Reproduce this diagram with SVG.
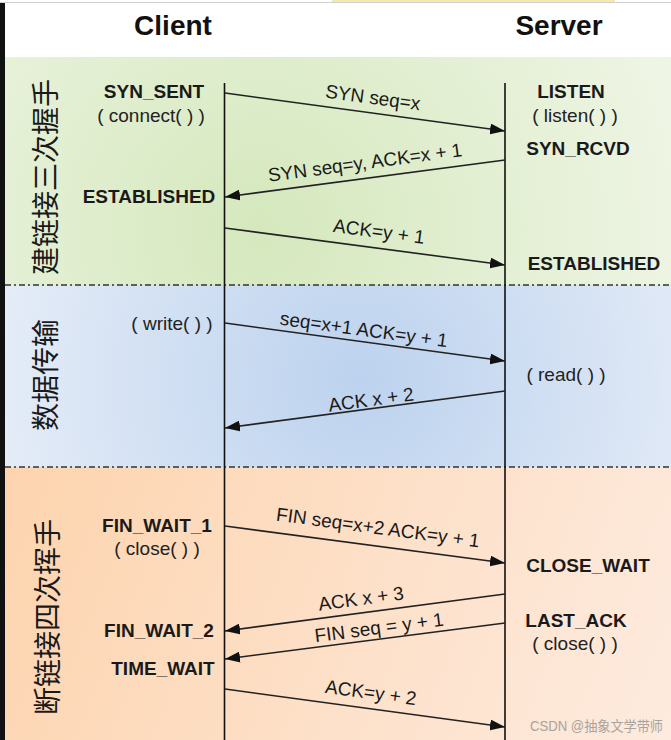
<svg xmlns="http://www.w3.org/2000/svg" width="671" height="740" viewBox="0 0 671 740">
  <style>
    .hdr { font-family: "Liberation Sans", Arial, sans-serif; font-size: 28px; font-weight: bold; fill: #111; text-anchor: middle; }
    .st { font-family: "Liberation Sans", Arial, sans-serif; font-size: 19px; font-weight: bold; fill: #1a1a1a; text-anchor: middle; }
    .fn { font-family: "Liberation Sans", Arial, sans-serif; font-size: 19px; fill: #222; text-anchor: middle; }
    .lbl { font-family: "Liberation Sans", Arial, sans-serif; font-size: 19px; fill: #1a1a1a; text-anchor: middle; }
    .cjk { font-family: "Noto Sans CJK SC", "Noto Sans CJK TC", sans-serif; font-size: 28px; fill: #1a1a1a; text-anchor: middle; }
    .life { stroke: #111; stroke-width: 1.6; fill: none; }
    .sep { stroke: #333; stroke-width: 1.6; stroke-dasharray: 6 3 2 3; fill: none; }
    .msg { stroke: #222; stroke-width: 1.6; fill: none; marker-end: url(#ah); }
    .wm { font-family: "Liberation Sans", "Noto Sans CJK SC", sans-serif; font-size: 14px; fill: #a9a39d; }
  </style>
  <defs>
    <marker id="ah" viewBox="0 0 15 11" refX="15" refY="5.5" markerWidth="15" markerHeight="11" markerUnits="userSpaceOnUse" orient="auto">
      <path d="M0,0 L15,5.5 L0,11 z" fill="#111"/>
    </marker>
    <radialGradient id="gGreen" cx="260" cy="230" r="460" gradientUnits="userSpaceOnUse">
      <stop offset="0" stop-color="#d5e8bd"/>
      <stop offset="1" stop-color="#f0f6e7"/>
    </radialGradient>
    <radialGradient id="gBlue" cx="360" cy="380" r="380" gradientUnits="userSpaceOnUse">
      <stop offset="0" stop-color="#bcd2ee"/>
      <stop offset="1" stop-color="#e6edf8"/>
    </radialGradient>
    <linearGradient id="gOrange" x1="0" y1="467" x2="671" y2="740" gradientUnits="userSpaceOnUse">
      <stop offset="0" stop-color="#fdd4ae"/>
      <stop offset="1" stop-color="#fdebdf"/>
    </linearGradient>
  </defs>

  <!-- frame / background -->
  <rect x="0" y="0" width="671" height="740" fill="#ffffff"/>
  <rect x="332" y="0" width="283" height="2" fill="#f5e9b0"/>
  <rect x="0" y="2" width="671" height="1" fill="#d0d0d0"/>
  <rect x="5" y="57" width="666" height="228" fill="url(#gGreen)"/>
  <rect x="5" y="285" width="666" height="182" fill="url(#gBlue)"/>
  <rect x="5" y="467" width="666" height="273" fill="url(#gOrange)"/>
  <rect x="0" y="3" width="5" height="737" fill="#111"/>
  <line class="sep" x1="5" y1="285" x2="671" y2="285"/>
  <line class="sep" x1="5" y1="467" x2="671" y2="467"/>

  <!-- headers -->
  <g id="client-header"><text class="hdr" x="173" y="35">Client</text></g>
  <g id="server-header"><text class="hdr" x="559" y="35">Server</text></g>

  <!-- phase labels -->
  <g id="phase-connect"><text class="cjk" transform="translate(46,177) rotate(-90)" y="10">建链接三次握手</text></g>
  <g id="phase-data"><text class="cjk" transform="translate(46,375) rotate(-90)" y="10">数据传输</text></g>
  <g id="phase-close"><text class="cjk" transform="translate(48,617) rotate(-90)" y="10">断链接四次挥手</text></g>

  <!-- lifelines -->
  <g id="lifelines">
    <line class="life" x1="224.5" y1="83" x2="224.5" y2="740"/>
    <line class="life" x1="505" y1="83" x2="505" y2="740"/>
  </g>

  <!-- client states -->
  <g id="c-syn-sent"><text class="st" x="154" y="98">SYN_SENT</text><text class="fn" x="151" y="122">( connect( ) )</text></g>
  <g id="c-established"><text class="st" x="149" y="203">ESTABLISHED</text></g>
  <g id="c-write"><text class="fn" x="172" y="330">( write( ) )</text></g>
  <g id="c-fin-wait-1"><text class="st" x="157" y="532">FIN_WAIT_1</text><text class="fn" x="157" y="555">( close( ) )</text></g>
  <g id="c-fin-wait-2"><text class="st" x="159" y="637">FIN_WAIT_2</text></g>
  <g id="c-time-wait"><text class="st" x="163" y="675">TIME_WAIT</text></g>

  <!-- server states -->
  <g id="s-listen"><text class="st" x="571" y="98">LISTEN</text><text class="fn" x="575" y="122">( listen( ) )</text></g>
  <g id="s-syn-rcvd"><text class="st" x="578" y="155">SYN_RCVD</text></g>
  <g id="s-established"><text class="st" x="594" y="270">ESTABLISHED</text></g>
  <g id="s-read"><text class="fn" x="566" y="381">( read( ) )</text></g>
  <g id="s-close-wait"><text class="st" x="588" y="572">CLOSE_WAIT</text></g>
  <g id="s-last-ack"><text class="st" x="576" y="627">LAST_ACK</text><text class="fn" x="575" y="650">( close( ) )</text></g>

  <!-- connectors -->
  <g id="connectors">
    <line class="msg" x1="225" y1="93" x2="505" y2="131"/>
    <text class="lbl" transform="translate(373,97) rotate(7.7)" y="7">SYN seq=x</text>

    <line class="msg" x1="505" y1="160" x2="225" y2="197"/>
    <text class="lbl" transform="translate(365,162) rotate(-7.6)" y="7">SYN seq=y, ACK=x + 1</text>

    <line class="msg" x1="225" y1="228" x2="505" y2="265"/>
    <text class="lbl" transform="translate(379,231) rotate(7.6)" y="7">ACK=y + 1</text>

    <line class="msg" x1="225" y1="323" x2="505" y2="361"/>
    <text class="lbl" transform="translate(364,329) rotate(7.7)" y="7">seq=x+1 ACK=y + 1</text>

    <line class="msg" x1="505" y1="391" x2="225" y2="428"/>
    <text class="lbl" transform="translate(371,399) rotate(-7.6)" y="7">ACK x + 2</text>

    <line class="msg" x1="225" y1="526" x2="505" y2="563"/>
    <text class="lbl" transform="translate(378,527) rotate(7.6)" y="7">FIN seq=x+2 ACK=y + 1</text>

    <line class="msg" x1="505" y1="594" x2="225" y2="631"/>
    <text class="lbl" transform="translate(361,598) rotate(-7.6)" y="7">ACK x + 3</text>

    <line class="msg" x1="505" y1="623" x2="225" y2="659"/>
    <text class="lbl" transform="translate(379,627) rotate(-7.4)" y="7">FIN seq = y + 1</text>

    <line class="msg" x1="225" y1="689" x2="505" y2="727"/>
    <text class="lbl" transform="translate(371,692) rotate(7.7)" y="7">ACK=y + 2</text>
  </g>

  <!-- watermark -->
  <text class="wm" x="530" y="731" textLength="133" lengthAdjust="spacingAndGlyphs">CSDN @抽象文学带师</text>
</svg>
